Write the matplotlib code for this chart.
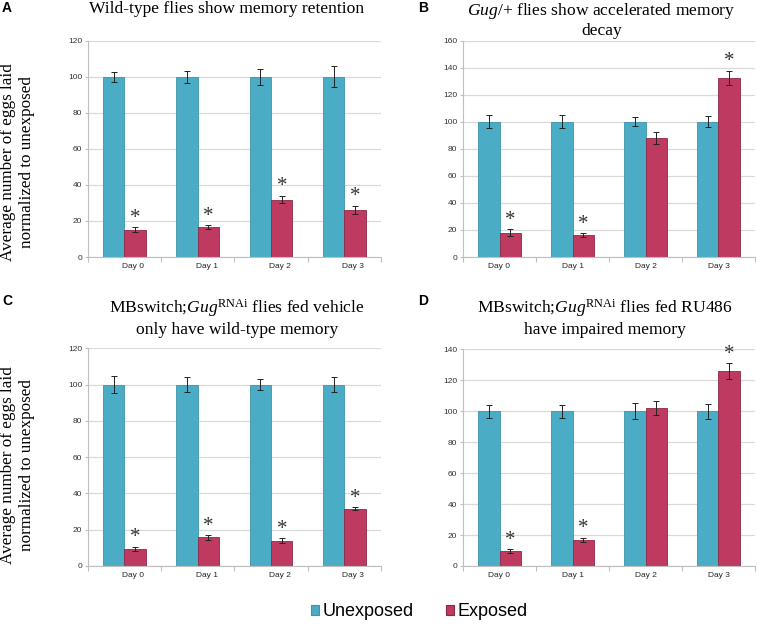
import matplotlib
matplotlib.use('Agg')
import matplotlib.pyplot as plt
import matplotlib.transforms as mtrans
from matplotlib.patches import Patch
import numpy as np

plt.rcParams['mathtext.fontset'] = 'custom'
plt.rcParams['mathtext.rm'] = 'Liberation Serif'
plt.rcParams['mathtext.it'] = 'Liberation Serif:italic'

days = ["Day 0", "Day 1", "Day 2", "Day 3"]

# panel A - wild type
a_unexp = [100, 100, 100, 100]
a_unexp_err = [2.7, 3.4, 4.5, 5.8]
a_exp = [15.2, 16.6, 31.9, 26.2]
a_exp_err = [1.4, 1.2, 2.1, 2.3]
a_star = [True, True, True, True]

# panel B - Gug/+
b_unexp = [100, 100, 100, 100]
b_unexp_err = [4.9, 4.8, 3.4, 4.2]
b_exp = [17.9, 16.2, 88.1, 132.4]
b_exp_err = [2.5, 1.2, 4.4, 5.5]
b_star = [True, True, False, True]

# panel C - vehicle
c_unexp = [100, 100, 100, 100]
c_unexp_err = [4.9, 4.1, 2.9, 4.0]
c_exp = [9.4, 15.8, 14.0, 31.6]
c_exp_err = [1.2, 1.3, 1.5, 0.9]
c_star = [True, True, True, True]

# panel D - RU486
d_unexp = [100, 100, 100, 100]
d_unexp_err = [4.2, 4.1, 5.2, 4.8]
d_exp = [9.5, 16.8, 102.3, 125.8]
d_exp_err = [1.3, 1.5, 4.6, 5.3]
d_star = [True, True, False, True]

BLUE, BLUE_E = "#4bacc6", "#3d93aa"
RED, RED_E = "#be3a60", "#8e2944"
GRID = "#d9d9d9"

W, H = 757, 629
fig = plt.figure(figsize=(W / 100, H / 100), dpi=100)


def px_axes(l, t, r, b):
    return fig.add_axes([l / W, 1 - b / H, (r - l) / W, (b - t) / H])


def panel(ax, unexp, unexp_err, exp, exp_err, stars, ymax, shift):
    x = np.arange(len(days))
    w = 0.293
    ax.bar(x - w / 2, unexp, w, color=BLUE, edgecolor=BLUE_E, linewidth=0.6, zorder=2)
    ax.bar(x + w / 2, exp, w, color=RED, edgecolor=RED_E, linewidth=0.6, zorder=2)
    ax.errorbar(x - w / 2, unexp, yerr=unexp_err, fmt='none', ecolor='#222222',
                elinewidth=0.7, capsize=2, capthick=0.7, zorder=3)
    ax.errorbar(x + w / 2, exp, yerr=exp_err, fmt='none', ecolor='#222222',
                elinewidth=0.7, capsize=2, capthick=0.7, zorder=3)
    for i, s in enumerate(stars):
        if s:
            ax.annotate('*', (x[i] + w / 2, exp[i] + exp_err[i]), xytext=(0, -0.5),
                        textcoords='offset points', ha='center', va='bottom',
                        fontsize=15, family='Liberation Serif', color='#333333')
    ax.set_xlim(-0.5, len(days) - 0.5)
    ax.set_ylim(0, ymax)
    ax.set_yticks(np.arange(0, ymax + 1, 20))
    ax.yaxis.grid(True, color=GRID, linewidth=0.9, zorder=0)
    ax.set_axisbelow(True)
    for s in ['top', 'right']:
        ax.spines[s].set_visible(False)
    for s in ['left', 'bottom']:
        ax.spines[s].set_color('#bfbfbf')
        ax.spines[s].set_linewidth(0.8)
    ax.set_xticks(x)
    ax.set_xticklabels(days)
    ax.set_xticks(np.arange(-0.5, len(days)), minor=True)
    ax.tick_params(axis='x', which='major', length=0, labelsize=6, pad=4, labelcolor='#262626')
    ax.tick_params(axis='x', which='minor', length=3.5, color='#bfbfbf', width=0.8)
    ax.tick_params(axis='y', length=2.5, color='#bfbfbf', width=0.8, labelsize=6,
                   pad=1.5, labelcolor='#333333')
    for lab in ax.get_yticklabels() + ax.get_xticklabels():
        lab.set_family('Liberation Sans')
    if shift:
        off = mtrans.ScaledTranslation(shift / 100, 0, fig.dpi_scale_trans)
        for lab in ax.get_xticklabels():
            lab.set_transform(lab.get_transform() + off)


axA = px_axes(87.7, 40.7, 381, 257)
axB = px_axes(463, 40.7, 755, 257)
axC = px_axes(87.7, 348.3, 381, 566)
axD = px_axes(463, 349.3, 755, 566)

panel(axA, a_unexp, a_unexp_err, a_exp, a_exp_err, a_star, 120, 9)
panel(axB, b_unexp, b_unexp_err, b_exp, b_exp_err, b_star, 160, 0)
panel(axC, c_unexp, c_unexp_err, c_exp, c_exp_err, c_star, 120, 9)
panel(axD, d_unexp, d_unexp_err, d_exp, d_exp_err, d_star, 140, 0)


def ftext(x, y, s, **kw):
    fig.text(x / W, 1 - y / H, s, **kw)


title_kw = dict(ha='center', va='center', fontsize=12.6, family='Liberation Serif')
ftext(226.5, 9, "Wild-type flies show memory retention", **title_kw)
ftext(601.5, 11, r"$\mathit{Gug}$/+ flies show accelerated memory", **title_kw)
ftext(601.5, 31, "decay", **title_kw)
ftext(237, 308, r"MBswitch;$\mathit{Gug}^{\mathrm{RNAi}}$ flies fed vehicle", **title_kw)
ftext(237, 330, "only have wild-type memory", **title_kw)
ftext(604.5, 308, r"MBswitch;$\mathit{Gug}^{\mathrm{RNAi}}$ flies fed RU486", **title_kw)
ftext(604.5, 330, "have impaired memory", **title_kw)

letter_kw = dict(ha='left', va='center', fontsize=10, fontweight='bold', family='Liberation Sans')
ftext(2, 8, "A", **letter_kw)
ftext(418, 8, "B", **letter_kw)
ftext(2, 301, "C", **letter_kw)
ftext(418, 301, "D", **letter_kw)

ylab = "Average number of eggs laid\nnormalized to unexposed"
ylab_kw = dict(ha='center', va='center', rotation=90, fontsize=12.3,
               family='Liberation Serif', linespacing=1.25)
ftext(18, 162, ylab, **ylab_kw)
ftext(18, 465, ylab, **ylab_kw)

handles = [Patch(facecolor=BLUE, edgecolor=BLUE_E, linewidth=0.8),
           Patch(facecolor=RED, edgecolor=RED_E, linewidth=0.8)]
fig.legend(handles, ["Unexposed", "Exposed"], loc='center', bbox_to_anchor=(419.5 / W, 1 - 612 / H),
           ncol=2, frameon=False, handlelength=0.45, handleheight=0.45, handletextpad=0.2,
           columnspacing=1.8, prop={'family': 'Liberation Sans', 'size': 13})

fig.savefig("out.png", dpi=100)
